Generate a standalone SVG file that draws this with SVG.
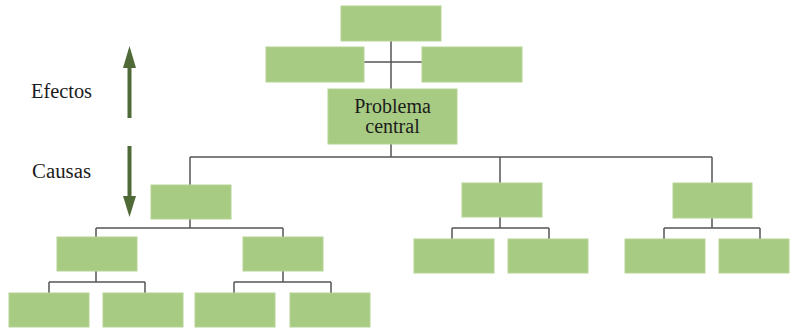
<svg xmlns="http://www.w3.org/2000/svg" width="790" height="330" viewBox="0 0 790 330">
<style>
.box{fill:#a8cb83;stroke:#b5d494;stroke-width:1}
.ln{stroke:#555;stroke-width:1.5;fill:none}
.lbl{font-family:"Liberation Serif","DejaVu Serif",serif;font-size:20px;fill:#1c1c1c}
.arr{fill:#4f6a37}
</style>
<rect width="790" height="330" fill="#fff"/>
<g id="connectors">
<path class="ln" d="M391 41V89M364 62H422"/>
<path class="ln" d="M391 144V157M190 157H712M190 157V185M500 157V183M712 157V183"/>
<path class="ln" d="M190 219V228M96 228H283M96 228V237M283 228V237"/>
<path class="ln" d="M96 271V282M49 282H145M49 282V293M145 282V293"/>
<path class="ln" d="M283 271V282M234 282H331M234 282V293M331 282V293"/>
<path class="ln" d="M500 217V228M452 228H549M452 228V239M549 228V239"/>
<path class="ln" d="M712 218V228M664 228H760M664 228V239M760 228V239"/>
</g>
<g id="arrows">
<rect class="arr" x="127.5" y="64" width="4" height="54"/>
<polygon class="arr" points="129.5,46 136,68 123,68"/>
<rect class="arr" x="127.5" y="146" width="4" height="52"/>
<polygon class="arr" points="129.5,217 136,196 123,196"/>
</g>
<g id="label-efectos"><text class="lbl" x="31" y="98" textLength="61" lengthAdjust="spacingAndGlyphs">Efectos</text></g>
<g id="label-causas"><text class="lbl" x="32" y="178" textLength="59" lengthAdjust="spacingAndGlyphs">Causas</text></g>
<g id="effect-top"><rect class="box" x="341" y="6" width="100" height="35"/></g>
<g id="effect-left"><rect class="box" x="266" y="47" width="98" height="35"/></g>
<g id="effect-right"><rect class="box" x="422" y="47" width="100" height="35"/></g>
<g id="problema-central"><rect class="box" x="328" y="89" width="129" height="55"/>
<text class="lbl" x="392.5" y="113" text-anchor="middle">Problema</text>
<text class="lbl" x="392.5" y="133" text-anchor="middle">central</text></g>
<g id="cause-1"><rect class="box" x="151" y="185" width="80" height="34"/></g>
<g id="cause-2"><rect class="box" x="462" y="183" width="80" height="34"/></g>
<g id="cause-3"><rect class="box" x="673" y="183" width="79" height="35"/></g>
<g id="cause-1-1"><rect class="box" x="57" y="237" width="80" height="34"/></g>
<g id="cause-1-2"><rect class="box" x="243" y="237" width="80" height="34"/></g>
<g id="cause-1-1-1"><rect class="box" x="9" y="293" width="80" height="34"/></g>
<g id="cause-1-1-2"><rect class="box" x="103" y="293" width="80" height="34"/></g>
<g id="cause-1-2-1"><rect class="box" x="195" y="293" width="80" height="34"/></g>
<g id="cause-1-2-2"><rect class="box" x="290" y="293" width="80" height="34"/></g>
<g id="cause-2-1"><rect class="box" x="414" y="239" width="80" height="34"/></g>
<g id="cause-2-2"><rect class="box" x="508" y="239" width="80" height="34"/></g>
<g id="cause-3-1"><rect class="box" x="625" y="239" width="80" height="34"/></g>
<g id="cause-3-2"><rect class="box" x="719" y="239" width="70" height="34"/></g>
</svg>
